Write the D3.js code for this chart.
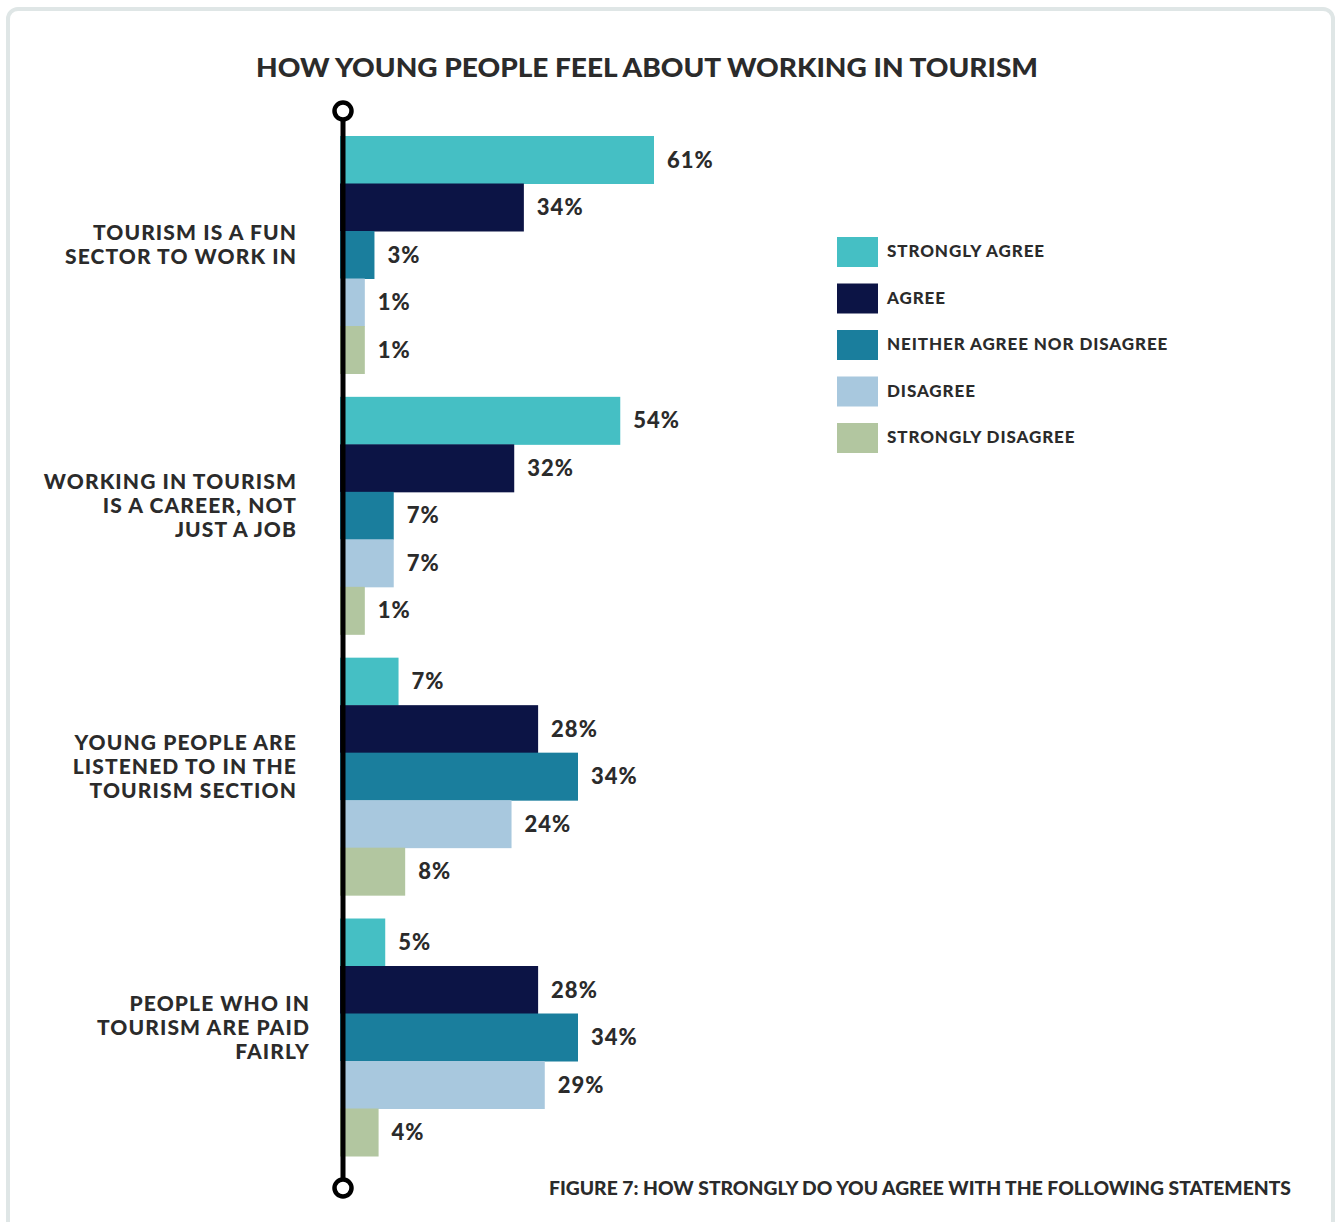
<!DOCTYPE html>
<html>
<head>
<meta charset="utf-8">
<script src="https://cdn.jsdelivr.net/npm/d3@7"></script>
<style>
  body { margin: 0; background: #fff; }
  text { font-family: Lato, "Open Sans", sans-serif; font-weight: 900; fill: #2b2b2b; }
</style>
</head>
<body>
<div id="chart"></div>
<script>
const statements = [
  ["TOURISM IS A FUN", "SECTOR TO WORK IN"],
  ["WORKING IN TOURISM", "IS A CAREER, NOT", "JUST A JOB"],
  ["YOUNG PEOPLE ARE", "LISTENED TO IN THE", "TOURISM SECTION"],
  ["PEOPLE WHO IN", "TOURISM ARE PAID", "FAIRLY"]
];
const responses = ["STRONGLY AGREE", "AGREE", "NEITHER AGREE NOR DISAGREE", "DISAGREE", "STRONGLY DISAGREE"];
const colors = ["#45bfc4", "#0c1445", "#1a7e9d", "#a8c8de", "#b2c6a0"];
// percent per statement, in the order of responses
const values = [
  [61, 34, 3, 1, 1],
  [54, 32, 7, 7, 1],
  [7, 28, 34, 24, 8],
  [5, 28, 34, 29, 4]
];

const W = 1338, H = 1222;
const svg = d3.select("#chart").append("svg")
  .attr("width", W)
  .attr("height", H);

// card frame
svg.append("rect")
  .attr("x", 8).attr("y", 9)
  .attr("width", 1325).attr("height", 1240)
  .attr("rx", 10)
  .attr("fill", "#fff")
  .attr("stroke", "#dfe6e6")
  .attr("stroke-width", 4);

svg.append("text")
  .attr("x", 647).attr("y", 77)
  .attr("text-anchor", "middle")
  .attr("font-size", 27)
  .attr("textLength", 782)
  .attr("lengthAdjust", "spacingAndGlyphs")
  .text("HOW YOUNG PEOPLE FEEL ABOUT WORKING IN TOURISM");

const x0 = 340;
// the original panel uses a wider scale for the two lower statements
const xTop = d3.scaleLinear().domain([0, 61]).range([x0 + 20, x0 + 314]);
const xBottom = d3.scaleLinear().domain([0, 34]).range([x0 + 12, x0 + 238]);
const xFor = i => (i < 2 ? xTop : xBottom);

const y0 = d3.scaleBand()
  .domain(d3.range(statements.length))
  .range([136, 1156])
  .paddingInner(0.0895);

const y1 = d3.scaleBand()
  .domain(d3.range(responses.length))
  .range([0, y0.bandwidth()]);

const groups = svg.append("g").selectAll("g")
  .data(values.map((v, i) => ({i, v})))
  .join("g")
  .attr("transform", d => `translate(0,${y0(d.i)})`);

groups.selectAll("rect")
  .data(d => d.v.map(v => ({i: d.i, v})))
  .join("rect")
  .attr("x", x0)
  .attr("y", (d, j) => y1(j))
  .attr("width", d => xFor(d.i)(d.v) - x0)
  .attr("height", y1.bandwidth() + 0.5)
  .attr("fill", (d, j) => colors[j]);

groups.selectAll("text.pct")
  .data(d => d.v.map(v => ({i: d.i, v})))
  .join("text")
  .attr("class", "pct")
  .attr("x", d => xFor(d.i)(d.v) + 13)
  .attr("y", (d, j) => y1(j) + y1.bandwidth() / 2)
  .attr("dy", "0.36em")
  .attr("font-size", 22)
  .attr("letter-spacing", 1)
  .text(d => d.v + "%");

// statement labels
const lineH = 24;
svg.append("g").selectAll("text")
  .data(statements)
  .join("text")
  .attr("text-anchor", "end")
  .attr("font-size", 21)
  .attr("letter-spacing", 1.1)
  .attr("transform", (d, i) => {
    const cy = y0(i) + y0.bandwidth() / 2 - 10 - (d.length - 1) * lineH / 2;
    return `translate(${i === 3 ? 310 : 297},${cy})`;
  })
  .selectAll("tspan")
  .data(d => d)
  .join("tspan")
  .attr("x", 0)
  .attr("y", (d, k) => k * lineH)
  .attr("dy", "0.36em")
  .text(d => d);

// axis line with round caps
svg.append("line")
  .attr("x1", 343).attr("x2", 343)
  .attr("y1", 120).attr("y2", 1179)
  .attr("stroke", "#000")
  .attr("stroke-width", 5);
[111, 1188].forEach(cy => {
  svg.append("circle")
    .attr("cx", 343).attr("cy", cy).attr("r", 8.5)
    .attr("fill", "#fff")
    .attr("stroke", "#000")
    .attr("stroke-width", 4.5);
});

// legend
const legend = svg.append("g").selectAll("g")
  .data(responses)
  .join("g")
  .attr("transform", (d, i) => `translate(837,${237 + i * 46.5})`);
legend.append("rect")
  .attr("width", 41).attr("height", 30)
  .attr("fill", (d, i) => colors[i]);
legend.append("text")
  .attr("x", 50).attr("y", 14)
  .attr("dy", "0.36em")
  .attr("font-size", 17)
  .attr("letter-spacing", 0.9)
  .text(d => d);

svg.append("text")
  .attr("x", 549).attr("y", 1195)
  .attr("font-size", 18)
  .attr("textLength", 742)
  .attr("lengthAdjust", "spacingAndGlyphs")
  .text("FIGURE 7: HOW STRONGLY DO YOU AGREE WITH THE FOLLOWING STATEMENTS");
</script>
</body>
</html>
